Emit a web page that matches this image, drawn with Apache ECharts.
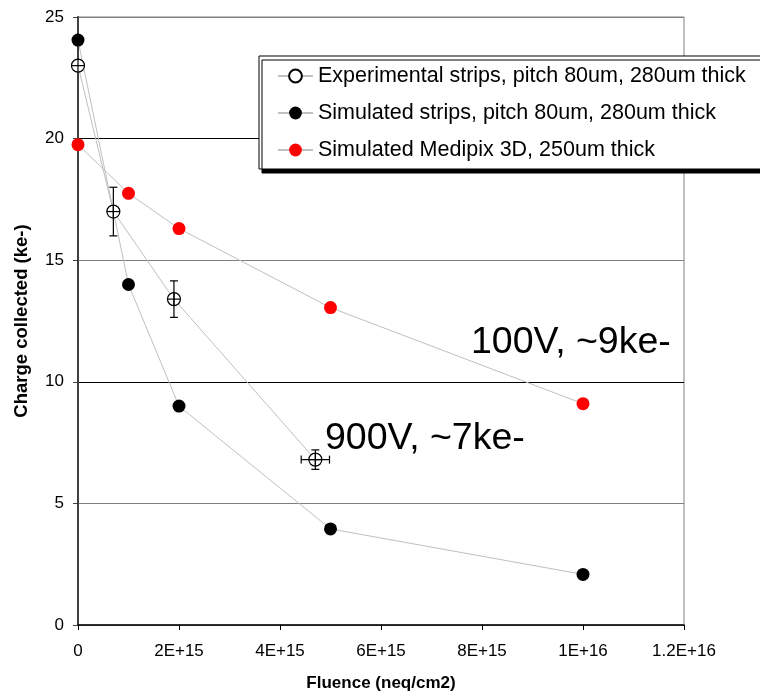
<!DOCTYPE html>
<html>
<head>
<meta charset="utf-8">
<script src="https://cdn.jsdelivr.net/npm/echarts@6/dist/echarts.min.js"></script>
<style>
  html, body { margin: 0; padding: 0; background: #fff; }
  #main { width: 760px; height: 693px; }
</style>
</head>
<body>
<div id="main"></div>
<script>
// data
var seriesNames = [
  'Experimental strips, pitch 80um, 280um thick',
  'Simulated strips, pitch 80um, 280um thick',
  'Simulated Medipix 3D, 250um thick'
];
var expX = [0, 7e14, 1.9e15, 4.7e15];
var expY = [23.0, 17.0, 13.4, 6.8];
var expErrY = [0, 1.0, 0.75, 0.4];
var expErrX = [0, 0, 0, 2.8e14];

var simX = [0, 1e15, 2e15, 5e15, 1e16];
var simY = [24.05, 14.0, 9.0, 3.95, 2.08];

var mpxX = [0, 1e15, 2e15, 5e15, 1e16];
var mpxY = [19.75, 17.75, 16.3, 13.05, 9.1];

var xTickLabels = ['0', '2E+15', '4E+15', '6E+15', '8E+15', '1E+16', '1.2E+16'];
var notes = ['100V, ~9ke-', '900V, ~7ke-'];

function pairs(xs, ys) {
  return xs.map(function (x, i) { return [x, ys[i]]; });
}

var font = 'Liberation Sans, Arial, sans-serif';
var chart = echarts.init(document.getElementById('main'));

var option = {
  animation: false,
  backgroundColor: '#fff',
  grid: {
    left: 78, right: 76, top: 17, bottom: 68,
    outerBoundsMode: 'none',
    show: true, borderColor: '#808080', borderWidth: 1
  },
  legend: {
    data: seriesNames,
    orient: 'vertical',
    left: 259, top: 56,
    backgroundColor: '#fff',
    borderColor: '#000',
    borderWidth: 1,
    padding: [9, 20, 8, 18],
    itemGap: 15,
    itemWidth: 35,
    itemHeight: 16,
    shadowColor: '#000',
    shadowOffsetX: 3,
    shadowOffsetY: 4,
    shadowBlur: 0,
    textStyle: { fontFamily: font, fontSize: 21.5, color: '#000' }
  },
  xAxis: {
    type: 'value',
    min: 0, max: 1.2e16, interval: 2e15,
    name: 'Fluence (neq/cm2)',
    nameLocation: 'middle',
    nameGap: 50,
    nameTextStyle: { fontFamily: font, fontSize: 17, fontWeight: 'bold', color: '#000' },
    axisLine: { onZero: false, lineStyle: { color: '#000', width: 1.5 } },
    axisTick: { show: true, inside: false, length: 5, lineStyle: { color: '#000' } },
    axisLabel: {
      margin: 18,
      fontFamily: font, fontSize: 17, color: '#000',
      formatter: function (v) { return xTickLabels[Math.round(v / 2e15)]; }
    },
    splitLine: { show: false }
  },
  yAxis: {
    type: 'value',
    min: 0, max: 25, interval: 5,
    name: 'Charge collected (ke-)',
    nameLocation: 'middle',
    nameGap: 47,
    nameRotate: 90,
    nameTextStyle: { fontFamily: font, fontSize: 18.5, fontWeight: 'bold', color: '#000' },
    axisLine: { show: true, lineStyle: { color: '#404040', width: 2 } },
    axisTick: { show: true, inside: false, length: 5, lineStyle: { color: '#404040' } },
    axisLabel: { margin: 14, fontFamily: font, fontSize: 17, color: '#000' },
    splitLine: {
      show: true,
      lineStyle: { color: ['#808080', '#808080', '#000', '#808080', '#000', '#808080'], width: 1 }
    }
  },
  graphic: [
    {
      type: 'text', left: 471, top: 324, z: 50,
      style: { text: notes[0], font: '37.5px ' + font, fill: '#000' }
    },
    {
      type: 'text', left: 325, top: 420, z: 50,
      style: { text: notes[1], font: '37.5px ' + font, fill: '#000' }
    }
  ],
  series: [
    {
      name: seriesNames[0],
      type: 'line',
      data: pairs(expX, expY),
      symbol: 'circle',
      symbolSize: 13,
      clip: false,
      lineStyle: { color: '#c0c0c0', width: 1 },
      itemStyle: { color: '#fff', borderColor: '#000', borderWidth: 1.2 },
      z: 3
    },
    {
      name: seriesNames[1],
      type: 'line',
      data: pairs(simX, simY),
      symbol: 'circle',
      symbolSize: 13,
      clip: false,
      lineStyle: { color: '#c0c0c0', width: 1 },
      itemStyle: { color: '#000' },
      z: 3
    },
    {
      name: seriesNames[2],
      type: 'line',
      data: pairs(mpxX, mpxY),
      symbol: 'circle',
      symbolSize: 13,
      clip: false,
      lineStyle: { color: '#c0c0c0', width: 1 },
      itemStyle: { color: '#ff0000' },
      z: 3
    },
    {
      // crosshair inside the open markers and error bars
      name: 'errors',
      type: 'custom',
      clip: false,
      z: 5,
      data: expX.map(function (x, i) { return [x, expY[i], expErrY[i], expErrX[i]]; }),
      renderItem: function (params, api) {
        var x = api.value(0), y = api.value(1), ey = api.value(2), ex = api.value(3);
        var c = api.coord([x, y]);
        var r = 6.5, cap = 4;
        var st = { stroke: '#000', lineWidth: 1.2 };
        var kids = [
          { type: 'line', shape: { x1: c[0] - r, y1: c[1], x2: c[0] + r, y2: c[1] }, style: st },
          { type: 'line', shape: { x1: c[0], y1: c[1] - r, x2: c[0], y2: c[1] + r }, style: st }
        ];
        if (ey > 0) {
          var t = api.coord([x, y + ey]), b = api.coord([x, y - ey]);
          kids.push({ type: 'line', shape: { x1: t[0], y1: t[1], x2: b[0], y2: b[1] }, style: st });
          kids.push({ type: 'line', shape: { x1: t[0] - cap, y1: t[1], x2: t[0] + cap, y2: t[1] }, style: st });
          kids.push({ type: 'line', shape: { x1: b[0] - cap, y1: b[1], x2: b[0] + cap, y2: b[1] }, style: st });
        }
        if (ex > 0) {
          var lft = api.coord([x - ex, y]), rgt = api.coord([x + ex, y]);
          kids.push({ type: 'line', shape: { x1: lft[0], y1: lft[1], x2: rgt[0], y2: rgt[1] }, style: st });
          kids.push({ type: 'line', shape: { x1: lft[0], y1: lft[1] - cap, x2: lft[0], y2: lft[1] + cap }, style: st });
          kids.push({ type: 'line', shape: { x1: rgt[0], y1: rgt[1] - cap, x2: rgt[0], y2: rgt[1] + cap }, style: st });
        }
        return { type: 'group', children: kids };
      }
    }
  ]
};

chart.setOption(option);
</script>
</body>
</html>
